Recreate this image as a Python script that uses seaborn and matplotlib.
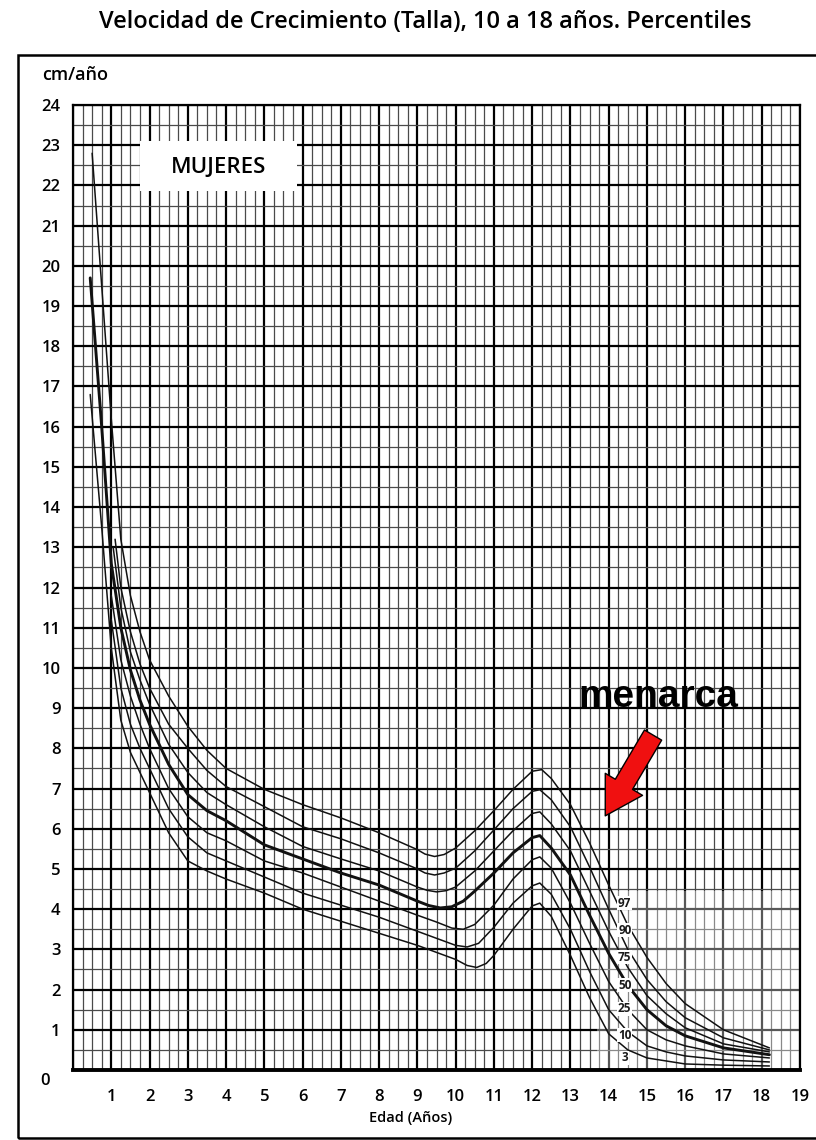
import matplotlib
matplotlib.use("Agg")
import matplotlib.pyplot as plt
from matplotlib.patches import Rectangle
import pandas as pd
import seaborn as sns

# Velocity percentiles (age in years, cm/year)
age_p97 = [0.5, 0.75, 1.0, 1.25, 1.5, 1.75, 2.0, 2.5, 3.0, 3.5, 4.0, 5.0, 6.0, 7.0, 8.0, 9.0, 9.2, 9.45, 9.7,
           10.0, 10.5, 11.0, 11.5, 12.0, 12.25, 12.5, 13.0, 13.5, 14.0, 14.5, 15.0, 15.5, 16.0, 17.0, 18.2]
vel_p97 = [22.8, 19.5, 16.2, 13.2, 11.8, 10.9, 10.2, 9.3, 8.55, 7.95, 7.5, 6.98, 6.6, 6.27, 5.9, 5.48, 5.37, 5.31, 5.36,
           5.52, 5.95, 6.45, 6.98, 7.43, 7.47, 7.25, 6.6, 5.65, 4.6, 3.6, 2.8, 2.15, 1.65, 1.0, 0.55]

age_p90 = [1.1, 1.25, 1.5, 1.75, 2.0, 2.5, 3.0, 3.5, 4.0, 5.0, 6.0, 7.0, 8.0, 9.0, 9.2, 9.45, 9.7,
           10.0, 10.5, 11.0, 11.5, 12.0, 12.2, 12.5, 13.0, 13.5, 14.0, 14.5, 15.0, 15.5, 16.0, 17.0, 18.2]
vel_p90 = [13.2, 12.0, 10.9, 10.1, 9.5, 8.6, 8.0, 7.45, 7.05, 6.55, 6.05, 5.75, 5.4, 5.0, 4.9, 4.85, 4.9,
           5.02, 5.45, 5.97, 6.5, 6.93, 6.97, 6.72, 6.05, 5.05, 4.0, 3.0, 2.25, 1.7, 1.3, 0.8, 0.5]

age_p75 = [1.05, 1.25, 1.5, 1.75, 2.0, 2.5, 3.0, 3.5, 4.0, 5.0, 6.0, 7.0, 8.0, 9.0, 9.25, 9.5, 9.75,
           10.0, 10.5, 11.0, 11.5, 12.0, 12.2, 12.5, 13.0, 13.5, 14.0, 14.5, 15.0, 15.5, 16.0, 17.0, 18.2]
vel_p75 = [13.0, 11.5, 10.4, 9.7, 9.1, 8.1, 7.4, 6.9, 6.6, 6.05, 5.56, 5.25, 4.95, 4.55, 4.47, 4.43, 4.46,
           4.55, 4.95, 5.45, 5.95, 6.38, 6.42, 6.12, 5.45, 4.45, 3.45, 2.55, 1.85, 1.4, 1.05, 0.65, 0.45]

age_p50 = [0.45, 0.75, 1.0, 1.25, 1.5, 1.75, 2.0, 2.5, 3.0, 3.5, 4.0, 5.0, 6.0, 7.0, 8.0, 9.0, 9.3, 9.6, 9.9,
           10.2, 10.5, 11.0, 11.5, 12.0, 12.2, 12.5, 13.0, 13.5, 14.0, 14.5, 15.0, 15.5, 16.0, 17.0, 18.2]
vel_p50 = [19.7, 16.0, 12.6, 11.0, 9.95, 9.2, 8.6, 7.6, 6.85, 6.45, 6.2, 5.6, 5.25, 4.9, 4.6, 4.2, 4.09, 4.03, 4.06,
           4.2, 4.45, 4.9, 5.4, 5.78, 5.83, 5.52, 4.85, 3.85, 2.9, 2.1, 1.5, 1.1, 0.85, 0.55, 0.38]

age_p25 = [1.0, 1.25, 1.5, 1.75, 2.0, 2.5, 3.0, 3.5, 4.0, 5.0, 6.0, 7.0, 8.0, 9.0, 9.5, 9.9, 10.2,
           10.5, 11.0, 11.5, 12.0, 12.2, 12.5, 13.0, 13.5, 14.0, 14.5, 15.0, 15.5, 16.0, 17.0, 18.2]
vel_p25 = [11.8, 10.2, 9.3, 8.6, 8.0, 7.0, 6.3, 5.9, 5.7, 5.2, 4.9, 4.55, 4.2, 3.85, 3.68, 3.53, 3.5,
           3.62, 4.1, 4.75, 5.23, 5.3, 5.02, 4.15, 3.15, 2.2, 1.5, 1.0, 0.75, 0.6, 0.4, 0.3]

age_p10 = [1.0, 1.25, 1.5, 1.75, 2.0, 2.5, 3.0, 3.5, 4.0, 5.0, 6.0, 7.0, 8.0, 9.0, 9.6, 10.0, 10.3,
           10.6, 11.0, 11.5, 12.0, 12.2, 12.5, 13.0, 13.5, 14.0, 14.5, 15.0, 15.5, 16.0, 17.0, 18.2]
vel_p10 = [11.2, 9.5, 8.6, 8.0, 7.5, 6.5, 5.8, 5.4, 5.2, 4.8, 4.4, 4.1, 3.8, 3.45, 3.24, 3.1, 3.06,
           3.15, 3.55, 4.15, 4.58, 4.65, 4.37, 3.5, 2.45, 1.5, 0.95, 0.6, 0.45, 0.35, 0.25, 0.2]

age_p3 = [0.45, 0.75, 1.0, 1.25, 1.5, 2.0, 2.5, 3.0, 3.5, 4.0, 5.0, 6.0, 7.0, 8.0, 9.0, 10.0, 10.3, 10.55,
          10.8, 11.0, 11.5, 12.0, 12.2, 12.5, 13.0, 13.5, 14.0, 14.5, 15.0, 16.0, 17.0, 18.2]
vel_p3 = [16.8, 13.5, 10.5, 8.7, 7.9, 6.9, 5.9, 5.2, 4.95, 4.75, 4.4, 4.0, 3.7, 3.4, 3.1, 2.75, 2.6, 2.55,
          2.65, 2.85, 3.5, 4.08, 4.15, 3.82, 2.85, 1.8, 0.9, 0.5, 0.3, 0.15, 0.12, 0.1]

pct_names = ["97", "90", "75", "50", "25", "10", "3"]
pct_label_y = [4.15, 3.48, 2.81, 2.11, 1.52, 0.87, 0.30]

x_ticks = list(range(0, 20))
y_ticks = list(range(0, 25))


def plot_chart():
    sns.set_theme(style="white")
    plt.rcParams['font.family'] = ['Open Sans', 'DejaVu Sans']
    plt.rcParams['text.color'] = 'black'
    plt.rcParams['xtick.color'] = 'black'
    plt.rcParams['ytick.color'] = 'black'

    fig = plt.figure(figsize=(8.16, 11.4), dpi=100)
    ax = fig.add_axes([73 / 816, 70 / 1140, 727 / 816, 965 / 1140])

    # graph-paper grid
    ax.set_xlim(0, 19)
    ax.set_ylim(0, 24)
    ax.set_xticks(x_ticks)
    ax.set_xticks([i * 0.25 for i in range(0, 77)], minor=True)
    ax.set_yticks(y_ticks)
    ax.set_yticks([i * 0.5 for i in range(0, 49)], minor=True)
    ax.set_axisbelow(True)
    ax.grid(which='major', color='black', linewidth=1.6)
    ax.grid(which='minor', color='#4a4a4a', linewidth=0.9)

    ax.set_xticklabels([''] + [str(i) for i in x_ticks[1:]])
    ax.set_yticklabels([''] + [str(i) for i in y_ticks[1:]])
    ax.tick_params(axis='x', which='major', direction='out', length=10, width=1.5,
                   color='black', labelcolor='black', labelsize=12, pad=4)
    ax.tick_params(axis='y', which='major', direction='out', length=8, width=1.5,
                   color='black', labelcolor='black', labelsize=12, pad=1)
    ax.tick_params(which='minor', length=0)
    for lab in ax.get_xticklabels() + ax.get_yticklabels():
        lab.set_fontweight('semibold')

    for side in ['top', 'right', 'left']:
        ax.spines[side].set_linewidth(1.6)
        ax.spines[side].set_color('black')
    ax.spines['bottom'].set_linewidth(2.8)
    ax.spines['bottom'].set_color('black')

    # faded corner of the scan
    ax.add_patch(Rectangle((13.7, 0.05), 5.3, 4.4, facecolor='white', alpha=0.35,
                           edgecolor='none', zorder=1))

    curves = [
        ("97", age_p97, vel_p97),
        ("90", age_p90, vel_p90),
        ("75", age_p75, vel_p75),
        ("50", age_p50, vel_p50),
        ("25", age_p25, vel_p25),
        ("10", age_p10, vel_p10),
        ("3", age_p3, vel_p3),
    ]
    for name, ages, vel in curves:
        df = pd.DataFrame({'edad': ages, 'vel': vel})
        sns.lineplot(data=df, x='edad', y='vel', ax=ax, color='#111111',
                     linewidth=2.1 if name == "50" else 1.1,
                     estimator=None, sort=False, zorder=2)
    ax.set_xlabel('')
    ax.set_ylabel('')

    for name, y in zip(pct_names, pct_label_y):
        ax.text(14.42, y, name, fontsize=8.5, fontweight='bold', ha='center', va='center',
                color='#1a1a1a', zorder=4,
                bbox=dict(facecolor='white', edgecolor='none', pad=0.5))

    # MUJERES box
    ax.add_patch(Rectangle((1.75, 21.85), 4.1, 1.25, facecolor='white', edgecolor='none', zorder=3))
    ax.text(3.8, 22.45, 'MUJERES', fontsize=16, fontweight='semibold', ha='center', va='center',
            color='black', zorder=4)

    # menarca annotation
    ax.text(15.29, 9.04, 'menarca', fontsize=28, fontweight='bold', family='Liberation Sans',
            color='black', ha='center', va='baseline', zorder=5)
    ax.annotate('', xy=(13.91, 6.32), xytext=(15.16, 8.33),
                arrowprops=dict(arrowstyle='simple,head_length=2.2,head_width=2.6,tail_width=1.2',
                                fc='#f01010', ec='black', lw=1.0, shrinkA=0, shrinkB=0),
                zorder=5)

    ax.text(-0.72, -0.28, '0', fontsize=12, fontweight='semibold', ha='center', va='center',
            color='black', clip_on=False)

    fig.text(42 / 816, 1 - 80 / 1140, 'cm/año', fontsize=13, fontweight='semibold',
             ha='left', va='baseline', color='black')
    fig.text(411 / 816, 1 - 1118 / 1140, 'Edad (Años)', fontsize=10.5, fontweight='semibold',
             ha='center', va='center', color='black')
    fig.text(425 / 816, 1 - 22 / 1140,
             'Velocidad de Crecimiento (Talla), 10 a 18 años. Percentiles',
             fontsize=17, fontweight='semibold', ha='center', va='center', color='black')

    # outer frame
    fig.patches.append(Rectangle((18 / 816, 2 / 1140), 1.0, 1 - 57 / 1140,
                                 transform=fig.transFigure, fill=False,
                                 edgecolor='black', linewidth=1.8))

    fig.savefig('out.png', dpi=100)
    plt.close(fig)


if __name__ == "__main__":
    plot_chart()
